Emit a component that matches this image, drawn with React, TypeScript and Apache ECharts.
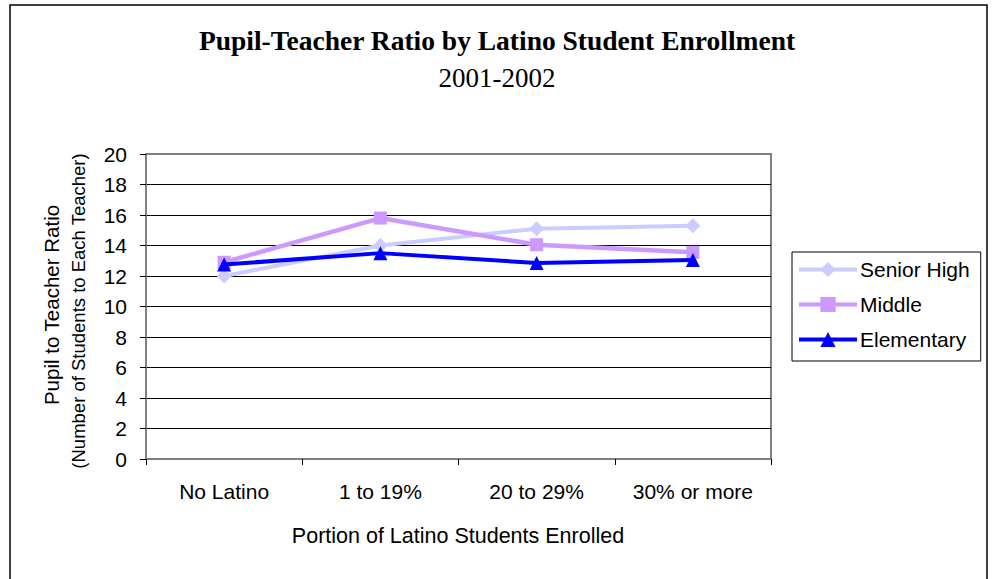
import React, { useEffect, useRef } from "react";
import * as echarts from "echarts";

const categories = ["No Latino", "1 to 19%", "20 to 29%", "30% or more"];
const seniorHigh = [12.0, 14.0, 15.1, 15.3];
const middle = [12.9, 15.8, 14.05, 13.55];
const elementary = [12.75, 13.5, 12.85, 13.05];
const yTicks = { min: 0, max: 20, interval: 2 };

const SANS = "'Liberation Sans', Arial, sans-serif";
const SERIF = "'Liberation Serif', 'Times New Roman', serif";

export default function App() {
  const ref = useRef<HTMLDivElement>(null);
  useEffect(() => {
    if (!ref.current) return;
    const chart = echarts.init(ref.current, null, { renderer: "svg" });
    const splitColors = Array.from({ length: 11 }, (_, i) => (i === 10 ? "#808080" : "#000000"));
    chart.setOption({
      animation: false,
      backgroundColor: "#ffffff",
      grid: {
        left: 146,
        right: 223,
        top: 154,
        bottom: 120,
        show: true,
        borderColor: "#808080",
        borderWidth: 2,
        containLabel: false,
      },
      title: [
        {
          text: "Pupil-Teacher Ratio by Latino Student Enrollment",
          left: "center",
          top: 26,
          padding: 0,
          textStyle: { fontFamily: SERIF, fontWeight: "bold", fontSize: 27.5, color: "#000" },
        },
        {
          text: "2001-2002",
          left: "center",
          top: 64,
          padding: 0,
          textStyle: { fontFamily: SERIF, fontWeight: "normal", fontSize: 27, color: "#000" },
        },
      ],
      legend: {
        orient: "vertical",
        left: 792,
        top: 252,
        padding: [7, 11, 11, 5],
        itemGap: 14,
        itemWidth: 58,
        itemHeight: 19,
        borderColor: "#000",
        borderWidth: 1,
        lineStyle: { width: 4 },
        textStyle: { fontFamily: SANS, fontSize: 21, color: "#000", padding: [0, 0, 0, -2] },
        data: ["Senior High", "Middle", "Elementary"],
      },
      xAxis: {
        type: "category",
        data: categories,
        boundaryGap: true,
        axisLine: { lineStyle: { color: "#808080", width: 2 } },
        axisTick: { show: true, interval: 0, length: 6, lineStyle: { color: "#000" } },
        axisLabel: {
          interval: 0,
          hideOverlap: false,
          fontFamily: SANS,
          fontSize: 21,
          color: "#000",
          margin: 22,
        },
        splitLine: { show: false },
      },
      yAxis: {
        type: "value",
        min: yTicks.min,
        max: yTicks.max,
        interval: yTicks.interval,
        axisLine: { show: true, lineStyle: { color: "#808080", width: 2 } },
        axisTick: { show: true, length: 6, lineStyle: { color: "#000" } },
        axisLabel: { fontFamily: SANS, fontSize: 21, color: "#000", margin: 19 },
        splitLine: { show: true, lineStyle: { color: splitColors, width: 1 } },
      },
      graphic: [
        {
          type: "rect",
          shape: { x: 10, y: 5, width: 977, height: 620 },
          style: { fill: "none", stroke: "#000", lineWidth: 1.5 },
          z: 100,
          silent: true,
        },
        {
          type: "text",
          x: 51,
          y: 305,
          rotation: Math.PI / 2,
          style: {
            text: "Pupil to Teacher Ratio",
            fontFamily: SANS,
            fontSize: 20.5,
            fill: "#000",
            align: "center",
            verticalAlign: "middle",
          },
        },
        {
          type: "text",
          x: 78,
          y: 311,
          rotation: Math.PI / 2,
          style: {
            text: "(Number of Students to Each Teacher)",
            fontFamily: SANS,
            fontSize: 18.5,
            fill: "#000",
            align: "center",
            verticalAlign: "middle",
          },
        },
        {
          type: "text",
          x: 458,
          y: 536,
          style: {
            text: "Portion of Latino Students Enrolled",
            fontFamily: SANS,
            fontSize: 21.5,
            fill: "#000",
            align: "center",
            verticalAlign: "middle",
          },
        },
      ],
      series: [
        {
          name: "Senior High",
          type: "line",
          data: seniorHigh,
          symbol: "diamond",
          symbolSize: 15,
          lineStyle: { color: "#CCCCFF", width: 4 },
          itemStyle: { color: "#CCCCFF" },
          z: 2,
        },
        {
          name: "Middle",
          type: "line",
          data: middle,
          symbol: "rect",
          symbolSize: 13,
          lineStyle: { color: "#CC99FF", width: 4.5 },
          itemStyle: { color: "#CC99FF" },
          z: 3,
        },
        {
          name: "Elementary",
          type: "line",
          data: elementary,
          symbol: "triangle",
          symbolSize: 14,
          lineStyle: { color: "#0000FF", width: 4 },
          itemStyle: { color: "#0000FF" },
          z: 4,
        },
      ],
    });
    return () => chart.dispose();
  }, []);
  return (
    <div
      ref={ref}
      style={{ position: "fixed", left: 0, top: 0, width: 994, height: 579, background: "#fff" }}
    />
  );
}
